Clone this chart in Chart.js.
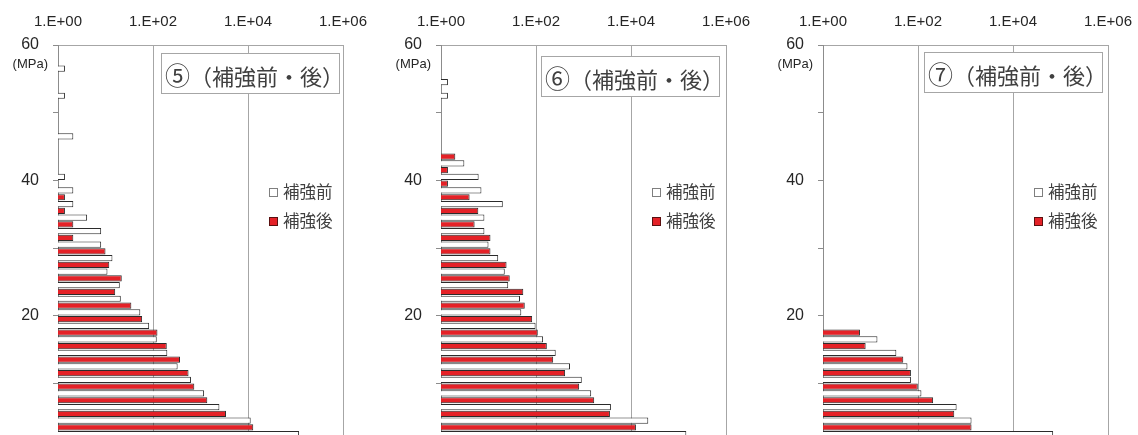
<!DOCTYPE html>
<html lang="ja">
<head>
<meta charset="utf-8">
<title>補強前・後 応力範囲頻度分布</title>
<script src="https://cdn.jsdelivr.net/npm/chart.js@4/dist/chart.umd.min.js"></script>
<style>
  html, body { margin: 0; padding: 0; width: 1138px; height: 435px; overflow: hidden; background: #fff; }
  #stage { position: relative; width: 1138px; height: 435px; overflow: hidden; }
  canvas { position: absolute; top: 0; }
  .title-box {
    position: absolute; box-sizing: border-box; border: 1px solid #a6a6a6; background: #fff;
    color: #404040; font-family: 'Noto Sans CJK JP', sans-serif; font-size: 22px;
    white-space: nowrap; padding-left: 3px;
  }
  .title-box .num { font-size: 25px; }
  .legend-row {
    position: absolute; height: 20px; line-height: 20px; white-space: nowrap;
    font-family: 'Noto Sans CJK JP', sans-serif; font-size: 16.5px; color: #404040;
  }
  .swatch { display: inline-block; width: 9px; height: 9px; box-sizing: border-box; vertical-align: middle; margin-right: 5px; position: relative; top: -1px; }
  .unit { position: absolute; font-family: 'Liberation Sans', Arial, sans-serif; font-size: 13px; color: #262626; white-space: nowrap; }
</style>
</head>
<body>
<div id="stage"></div>
<script>
// Stress-range classes (MPa), one before/after pair per class
const stressLevels = [2, 4, 6, 8, 10, 12, 14, 16, 18, 20, 22, 24, 26, 28, 30,
                      32, 34, 36, 38, 40, 42, 44, 46, 48, 50, 52, 54, 56, 58];

// ⑤ cycle counts
const before5 = [119000, 11400, 2500, 1190, 630, 330, 200, 120, 83, 54, 21, 20, 11, 14, 8.1,
                 8.1, 4.1, 2.1, 2.1, 1.4, null, null, 2.1, null, null, 1.4, null, 1.4, null];
const after5  = [100000, 12900, 3440, 1390, 740, 560, 370, 195, 124, 59, 35, 16, 22, 12, 10,
                 2.1, 2.1, 1.4, 1.4, null, null, null, null, null, null, null, null, null, null];

// ⑥ cycle counts
const before6 = [146000, 23100, 3780, 1450, 920, 520, 260, 141, 98, 49, 46, 26, 22, 16, 10,
                 8.2, 8.2, 20, 7.1, 6.2, 3.1, null, null, null, null, 1.4, 1.4, null, null];
const after6  = [90000, 12700, 3600, 1680, 810, 410, 230, 169, 109, 83, 58, 54, 28, 24, 11,
                 11, 5.1, 6.1, 4.0, 1.4, 1.4, 2.0, null, null, null, null, null, null, null];

// ⑦ cycle counts
const before7 = [70000, 1340, 650, 118, 71, 60, 35, 14, null, null, null, null, null, null, null,
                 null, null, null, null, null, null, null, null, null, null, null, null, null, null];
const after7  = [50000, 1340, 580, 208, 99, 71, 49, 7.9, 6.0, null, null, null, null, null, null,
                 null, null, null, null, null, null, null, null, null, null, null, null, null, null];

const xTickValues = [1, 1e2, 1e4, 1e6];
const xTickLabels = ['1.E+00', '1.E+02', '1.E+04', '1.E+06'];
const yTickValues = [0, 10, 20, 30, 40, 50, 60];
const yTickLabels = ['0', '', '20', '', '40', '', '60'];
const seriesNames = ['補強前', '補強後'];
const panelNumbers = ['⑤', '⑥', '⑦'];
const panelTitleText = '（補強前・後）';
const unitLabel = '(MPa)';

const BEFORE_FILL = '#ffffff';
const AFTER_FILL = '#e42127';
const BAR_EDGE = '#2b2b2b';

Chart.defaults.font.family = "'Liberation Sans', Arial, sans-serif";
Chart.defaults.color = '#262626';

const panels = [
  { before: before5, after: after5, num: panelNumbers[0], canvasLeft: 0,   axisWidth: 58, titleDx: 103, titleTop: 53 },
  { before: before6, after: after6, num: panelNumbers[1], canvasLeft: 380, axisWidth: 61, titleDx: 100, titleTop: 56 },
  { before: before7, after: after7, num: panelNumbers[2], canvasLeft: 760, axisWidth: 63, titleDx: 101, titleTop: 52 }
];
const PLOT_WIDTH = 285;
const PAD_RIGHT = 40;
const PAD_BOTTOM = 29;
const CANVAS_HEIGHT = 480;

function toPoints(values) {
  const pts = [];
  values.forEach((v, i) => { if (v !== null) pts.push({ x: v, y: stressLevels[i] }); });
  return pts;
}

const stage = document.getElementById('stage');

panels.forEach(p => {
  const canvas = document.createElement('canvas');
  const w = p.axisWidth + PLOT_WIDTH + PAD_RIGHT;
  canvas.width = w; canvas.height = CANVAS_HEIGHT;
  canvas.style.width = w + 'px'; canvas.style.height = CANVAS_HEIGHT + 'px';
  canvas.style.left = p.canvasLeft + 'px';
  stage.appendChild(canvas);

  const chart = new Chart(canvas, {
    type: 'bar',
    data: {
      datasets: [
        { label: seriesNames[0], data: toPoints(p.before), backgroundColor: BEFORE_FILL, borderColor: BAR_EDGE,
          borderWidth: 1, categoryPercentage: 1, barPercentage: 0.92 },
        { label: seriesNames[1], data: toPoints(p.after), backgroundColor: AFTER_FILL, borderColor: BAR_EDGE,
          borderWidth: 1, categoryPercentage: 1, barPercentage: 0.92 }
      ]
    },
    options: {
      indexAxis: 'y',
      responsive: false,
      animation: false,
      devicePixelRatio: 1,
      layout: { padding: { left: 0, top: 0, right: PAD_RIGHT, bottom: PAD_BOTTOM } },
      plugins: { legend: { display: false }, tooltip: { enabled: false } },
      scales: {
        x: {
          type: 'logarithmic',
          position: 'top',
          min: 1, max: 1e6,
          beginAtZero: false,
          afterBuildTicks: s => { s.ticks = xTickValues.map(v => ({ value: v })); },
          afterFit: s => { s.height = 45; },
          ticks: {
            autoSkip: false, maxRotation: 0, padding: 14,
            font: { size: 15 }, color: '#262626',
            callback: (v, i) => xTickLabels[i]
          },
          grid: { drawOnChartArea: true, drawTicks: false, color: '#a6a6a6', lineWidth: 1 },
          border: { display: true, color: '#a6a6a6', width: 1 }
        },
        y: {
          type: 'linear',
          min: 0, max: 60,
          offset: false,
          afterBuildTicks: s => { s.ticks = yTickValues.map(v => ({ value: v })); },
          afterFit: s => { s.width = p.axisWidth; },
          ticks: {
            autoSkip: false, padding: 14,
            font: { size: 16 }, color: '#262626',
            callback: v => yTickLabels[yTickValues.indexOf(v)]
          },
          grid: { offset: false, drawOnChartArea: false, drawTicks: true, tickLength: 5, color: '#8c8c8c' },
          border: { display: true, color: '#8c8c8c', width: 1 }
        }
      }
    }
  });

  const left = p.canvasLeft + chart.chartArea.left;

  // unit label under the top tick
  const unit = document.createElement('div');
  unit.className = 'unit';
  unit.textContent = unitLabel;
  unit.style.right = (1138 - (left - 10)) + 'px';
  unit.style.top = '56px';
  stage.appendChild(unit);

  // panel title box
  const box = document.createElement('div');
  box.className = 'title-box';
  const num = document.createElement('span');
  num.className = 'num';
  num.textContent = p.num;
  box.appendChild(num);
  box.appendChild(document.createTextNode(panelTitleText));
  box.style.left = (left + p.titleDx) + 'px';
  box.style.top = p.titleTop + 'px';
  box.style.width = '179px';
  box.style.height = '41px';
  box.style.lineHeight = '41px';
  stage.appendChild(box);

  // legend
  const legendRows = [
    { name: seriesNames[0], fill: BEFORE_FILL, edge: '#7f7f7f', top: 181 },
    { name: seriesNames[1], fill: AFTER_FILL, edge: '#5a1010', top: 210 }
  ];
  legendRows.forEach(r => {
    const row = document.createElement('div');
    row.className = 'legend-row';
    row.style.left = (left + 211) + 'px';
    row.style.top = r.top + 'px';
    const sw = document.createElement('span');
    sw.className = 'swatch';
    sw.style.background = r.fill;
    sw.style.border = '1px solid ' + r.edge;
    row.appendChild(sw);
    row.appendChild(document.createTextNode(r.name));
    stage.appendChild(row);
  });
});
</script>
</body>
</html>
